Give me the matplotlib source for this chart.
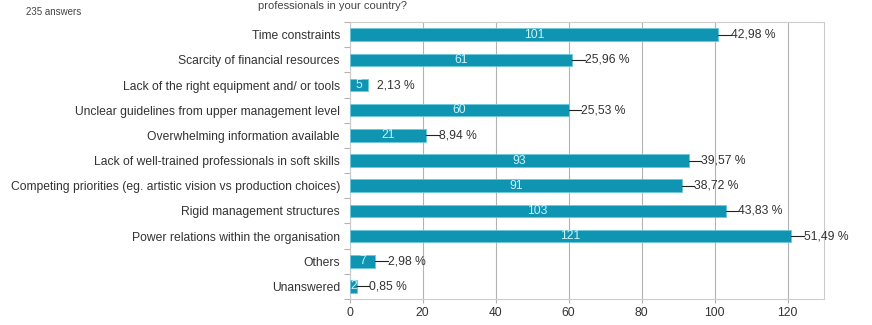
import numpy as np
import matplotlib.pyplot as plt

plt.rcParams['font.family'] = ['Liberation Sans', 'DejaVu Sans']

categorias = [
    "Time constraints",
    "Scarcity of financial resources",
    "Lack of the right equipment and/ or tools",
    "Unclear guidelines from upper management level",
    "Overwhelming information available",
    "Lack of well-trained professionals in soft skills",
    "Competing priorities (eg. artistic vision vs production choices)",
    "Rigid management structures",
    "Power relations within the organisation",
    "Others",
    "Unanswered",
]
respuestas = [101, 61, 5, 60, 21, 93, 91, 103, 121, 7, 2]
total = 235
ticks_x = [0, 20, 40, 60, 80, 100, 120]

color_barra = '#0f94b2'
color_texto = '#333333'
fs = 8.7

fig = plt.figure(figsize=(8.72, 3.25), dpi=100)
ax = fig.add_axes([0.401, 0.08, 0.544, 0.852])

y = np.arange(len(categorias))
ax.barh(y, respuestas, height=0.5, color=color_barra, edgecolor='#6cc8dc', linewidth=0.6, zorder=3)

for i, v in enumerate(respuestas):
    # numero dentro de la barra
    ax.text(v / 2, i, str(v), ha='center', va='center', fontsize=fs, color='#cdf1f8', zorder=4)
    pct = f"{v / total * 100:.2f} %".replace('.', ',')
    if i == 2:
        ax.text(v + 2.6, i, pct, ha='left', va='center', fontsize=fs, color=color_texto)
    else:
        ax.plot([v, v + 3.4], [i, i], color='#222222', linewidth=0.8, zorder=4)
        ax.text(v + 3.4, i, pct, ha='left', va='center', fontsize=fs, color=color_texto)

ax.set_xlim(0, 130)
ax.set_ylim(len(categorias) - 0.5, -0.5)
ax.set_xticks(ticks_x)
ax.set_xticklabels([str(t) for t in ticks_x])
ax.set_yticks(y)
ax.set_yticklabels(categorias)
ax.set_yticks(np.arange(len(categorias) + 1) - 0.5, minor=True)
ax.tick_params(axis='y', which='major', length=0, pad=7, labelsize=fs, labelcolor=color_texto)
ax.tick_params(axis='y', which='minor', length=4, color='#b3b3b3', width=0.8)
ax.tick_params(axis='x', length=3, color='#b3b3b3', labelsize=fs, labelcolor=color_texto, pad=3)

ax.grid(axis='x', color='#b3b3b3', linewidth=0.8, zorder=0)
for s in ax.spines.values():
    s.set_color('#cccccc')
    s.set_linewidth(0.8)

fig.text(0.030, 0.963, "235 answers", fontsize=7, color='#444444', va='center')
fig.text(0.296, 0.998, "professionals in your country?", fontsize=8, color='#444444', va='top')

plt.savefig('out.png', dpi=100)
